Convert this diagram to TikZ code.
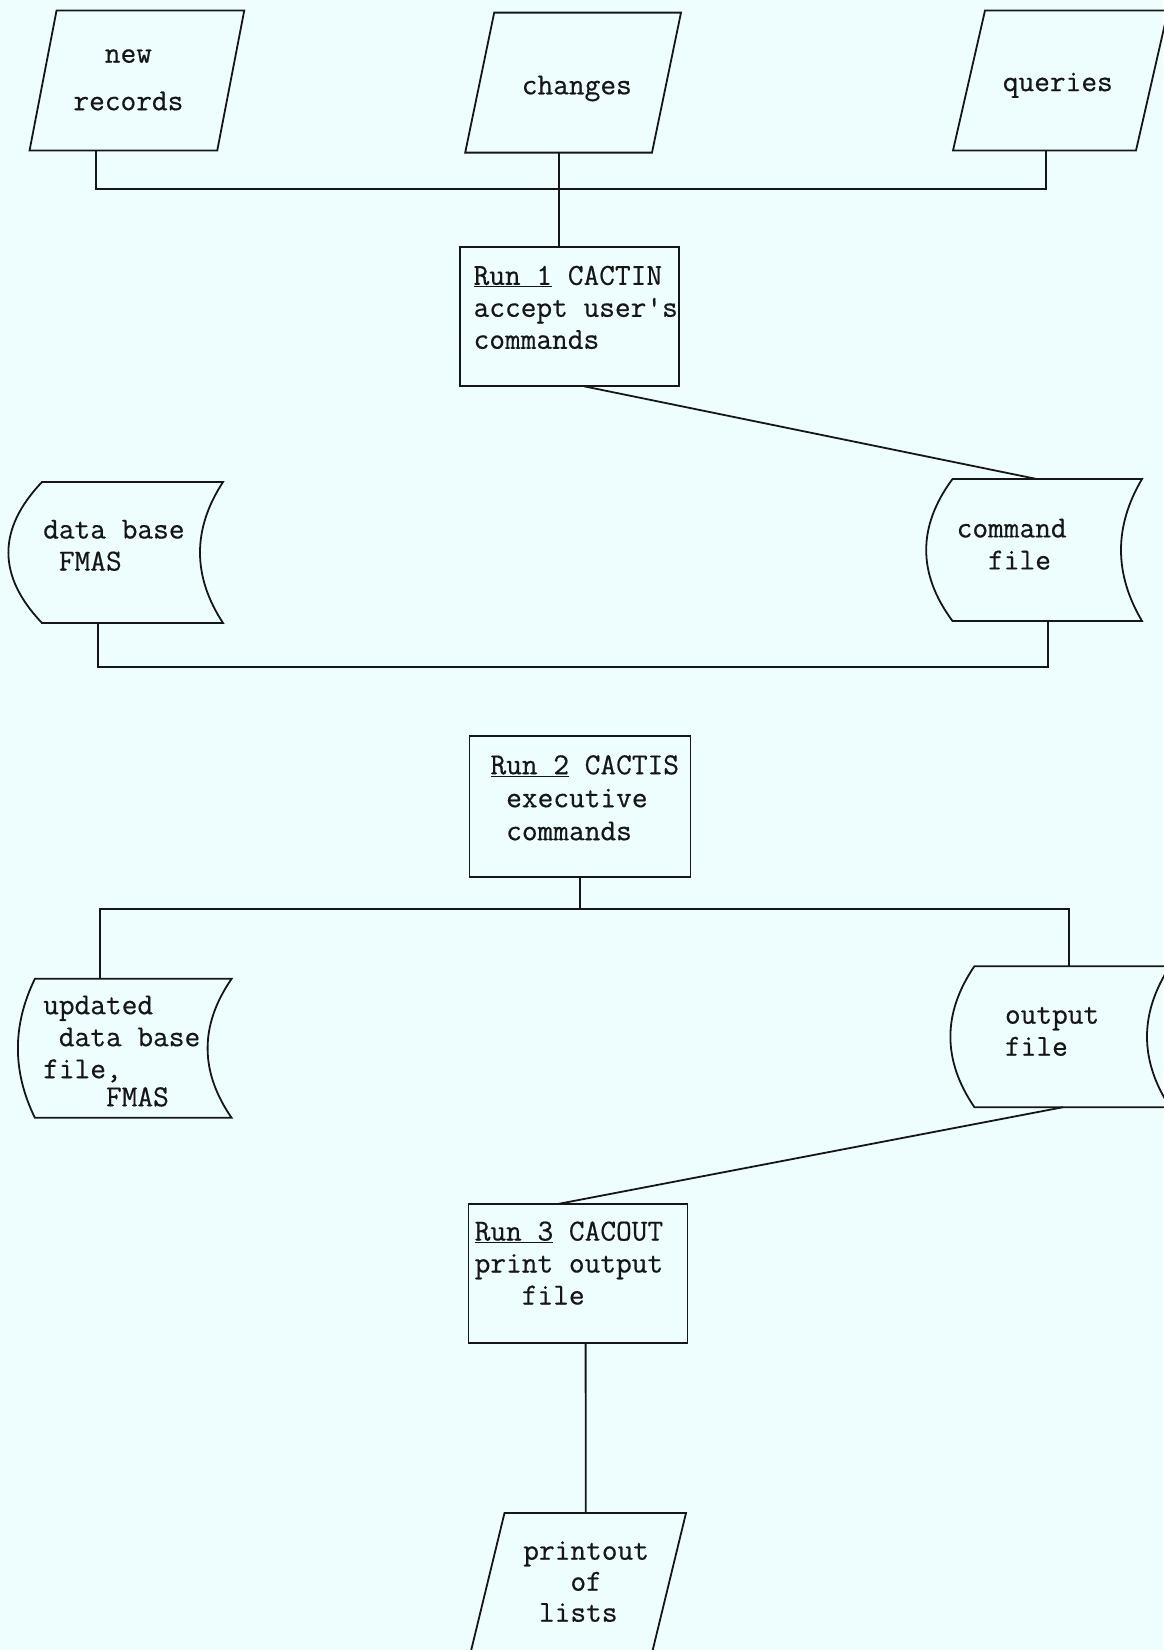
\documentclass[tikz,border=0pt]{standalone}
\usepackage{fontspec}
\newfontfamily\twfont{Latin Modern Mono}[FakeBold=0.5]
\usetikzlibrary{calc}
\definecolor{paper}{RGB}{238,254,255}
\definecolor{ink}{RGB}{22,22,22}

% input/output parallelogram drawn from a node's box: #1 node, #2 slant
\newcommand\drawio[2]{%
  \draw[frame] ([xshift=#2]#1.north west) -- (#1.north east)
    -- ([xshift=-#2]#1.south east) -- (#1.south west) -- cycle;}

% stored-data symbol: #1 node, #2 depth of left bulge, #3 depth of right hollow
\newcommand\drawstore[3]{%
  \draw[frame] ([xshift=#2]#1.north west) -- (#1.north east)
    .. controls ($(#1.north east)!1/3!(#1.south east) + (-4/3*#3,0pt)$)
       and ($(#1.north east)!2/3!(#1.south east) + (-4/3*#3,0pt)$) .. (#1.south east)
    -- ([xshift=#2]#1.south west)
    .. controls ($(#1.south west)!1/3!(#1.north west) + (-#2/3,0pt)$)
       and ($(#1.south west)!2/3!(#1.north west) + (-#2/3,0pt)$) .. ([xshift=#2]#1.north west)
    -- cycle;}

% invisible strut fixing the first baseline below the top of a text block
\newcommand\firstline{\rule{0pt}{21pt}}

\begin{document}
\begin{tikzpicture}[x=1pt,y=-1pt,
  every node/.style={inner sep=0pt, outer sep=0pt},
  frame/.style={draw=ink, line width=1.8pt, line join=miter},
  wire/.style={draw=ink, line width=1.8pt},
  sized/.style 2 args={rectangle, minimum width=#1, minimum height=#2},
  txt/.style={align=left, text=ink, font=\twfont\fontsize{30.5}{32}\selectfont},
  ctxt/.style={align=center, text=ink, font=\twfont\fontsize{30.5}{32}\selectfont}]

\fill[paper] (0,0) rectangle (1163,1650);
\useasboundingbox (0,0) rectangle (1163,1650);

% ---- inputs ----
\node[sized={214.7pt}{140pt}] (newrec) at (136.9,80.5) {};
\drawio{newrec}{27pt}
\node[ctxt, anchor=north] (newrect) at (128.4,41.7) {\firstline new\\[15.5pt]records};

\node[sized={215.8pt}{140pt}] (chg) at (573.1,82.6) {};
\drawio{chg}{29pt}
\node[ctxt, anchor=north] (chgt) at (576.8,73.3) {\firstline changes};

\node[sized={215pt}{140pt}] (qry) at (1060.5,80.5) {};
\drawio{qry}{32pt}
\node[ctxt, anchor=north] (qryt) at (1057.8,70.1) {\firstline queries};

% ---- run 1 ----
\node[sized={219pt}{139pt}, frame] (run1) at (569.4,316.8) {};
\node[txt, anchor=north west] (run1t) at (473.6,263.8)
  {\firstline\underline{Run 1} CACTIN\\accept user\textquotesingle s\\commands};

% ---- files ----
\node[sized={214.6pt}{141pt}] (db) at (115.7,552.5) {};
\drawstore{db}{33.6pt}{23pt}
\node[txt, anchor=north west] (dbt) at (43.2,517.5)
  {\firstline data base\\\hphantom{x}FMAS};

\node[sized={215.8pt}{142pt}] (cmd) at (1034.1,550) {};
\drawstore{cmd}{26.3pt}{21pt}
\node[txt, anchor=north west] (cmdt) at (956.7,516.4)
  {\firstline command\\\hphantom{xx}file};

% ---- run 2 ----
\node[sized={221pt}{141pt}, frame] (run2) at (579.9,806.2) {};
\node[txt, anchor=north west] (run2t) at (490.5,753.2)
  {\firstline\underline{Run 2} CACTIS\\[1pt]\hphantom{x}executive\\[1pt]\hphantom{x}commands};

\node[sized={213.7pt}{139pt}] (upd) at (124.75,1048.3) {};
\drawstore{upd}{17pt}{24pt}
\node[txt, anchor=north west] (updt) at (43.2,993.2)
  {\firstline updated\\\hphantom{x}data base\\file,\\[-4pt]\hphantom{xxxx}FMAS};

\node[sized={219.6pt}{141pt}] (out) at (1060.2,1036.7) {};
\drawstore{out}{24pt}{23pt}
\node[txt, anchor=north west] (outt) at (1005,1002.7)
  {\firstline output\\file};

% ---- run 3 ----
\node[sized={219pt}{139pt}, frame] (run3) at (577.9,1273.5) {};
\node[txt, anchor=north west] (run3t) at (474.7,1219.5)
  {\firstline\underline{Run 3} CACOUT\\print output\\\hphantom{xxx}file};

\node[sized={215.5pt}{140pt}] (prt) at (578.25,1583) {};
\drawio{prt}{34pt}
\node[txt, anchor=north west] (prtt) at (523.3,1538.7)
  {\firstline printout\\[-1pt]\hphantom{xxx}of\\[-1pt]\hphantom{x}lists};

% ---- connectors ----
\coordinate (bus1) at (558.9,189);
\coordinate (bus2) at (0,667);
\coordinate (bus3) at (0,909);

\draw[wire] ([xshift=-41.1pt]newrec.south) |- (bus1)
  -| ([xshift=-14.5pt]qry.south);
\draw[wire] ([xshift=-14.2pt]chg.south) -- ([xshift=-10.5pt]run1.north);

\draw[wire] ([xshift=14.7pt]run1.south) -- ([xshift=2.6pt]cmd.north);

\coordinate (dbout) at ([xshift=-17.8pt]db.south);
\coordinate (cmdout) at ([xshift=14.2pt]cmd.south);
\draw[wire] (dbout) -- (dbout |- bus2) -| (cmdout);

\coordinate (updin) at ([xshift=-24.8pt]upd.north);
\coordinate (outin) at ([xshift=9.1pt]out.north);
\draw[wire] (run2.south) -- (run2.south |- bus3);
\draw[wire] (updin) -- (updin |- bus3) -| (outin);

\draw[wire] ([xshift=2.8pt]out.south) -- ([xshift=-20.1pt]run3.north);
\draw[wire] ([xshift=7.7pt]run3.south) -- ([xshift=7.5pt]prt.north);
\end{tikzpicture}
\end{document}
